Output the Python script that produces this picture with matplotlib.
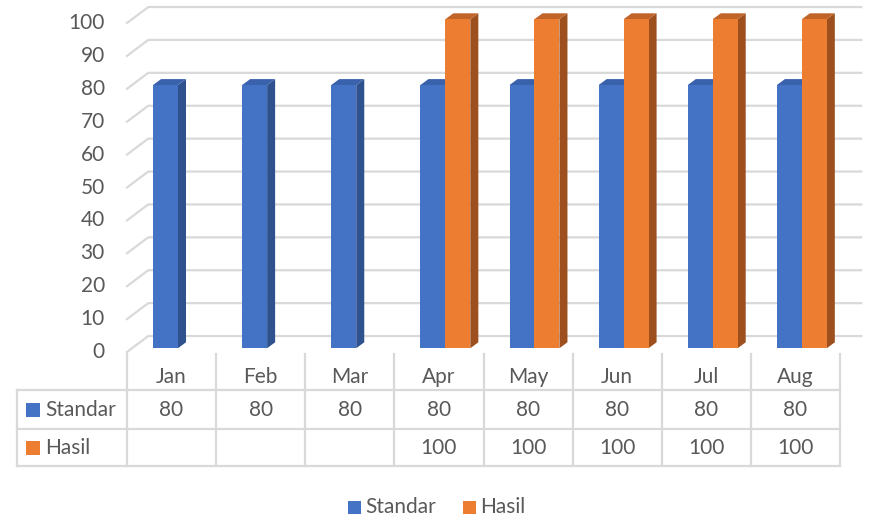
import matplotlib.pyplot as plt
from matplotlib.patches import Polygon, Rectangle
from matplotlib.transforms import blended_transform_factory

plt.rcParams['font.family'] = ['Lato', 'DejaVu Sans']

months = ['Jan', 'Feb', 'Mar', 'Apr', 'May', 'Jun', 'Jul', 'Aug']
standar = [80, 80, 80, 80, 80, 80, 80, 80]
hasil = [None, None, None, 100, 100, 100, 100, 100]
series_names = ['Standar', 'Hasil']
y_ticks = list(range(0, 101, 10))

# colours: front, side, top
blue = ('#4472C4', '#2F528F', '#3A62AC')
orange = ('#ED7D31', '#9E4F1E', '#C0642A')
grid_c = '#d9d9d9'
text_c = '#595959'
fs = 15

W, H = 869, 521
fig = plt.figure(figsize=(W / 100, H / 100), dpi=100)

# front plane of the 3d box, in pixels
px_left, px_right, px_top, px_bottom = 127, 840, 23, 352
ax = fig.add_axes([px_left / W, 1 - px_bottom / H,
                   (px_right - px_left) / W, (px_bottom - px_top) / H])
ax.set_xlim(-0.5, len(months) - 0.5)
ax.set_ylim(0, 100)
ax.axis('off')

# depth offsets in data units
back_dx, back_dy = 0.238, 4.85
bar_dx, bar_dy = 0.072, 1.15
bar_w = 0.28
side_dx, side_dy = 0.09, 1.8

# walls: gridlines on back wall + diagonal on side wall
x_lo, x_hi = -0.5, len(months) - 0.5
for v in y_ticks:
    ax.plot([x_lo, x_lo + back_dx, x_hi + back_dx], [v, v + back_dy, v + back_dy],
            color=grid_c, lw=1.6, clip_on=False, zorder=1)
    ax.annotate(str(v), (x_lo, v), xytext=(-16, 0), textcoords='offset points',
                ha='right', va='center', fontsize=fs, color=text_c)


def bar3d(x0, h, cols):
    xf = x0 + bar_dx
    y0 = bar_dy
    front = Rectangle((xf, y0), bar_w, h, facecolor=cols[0], edgecolor='none', zorder=3)
    side = Polygon([(xf + bar_w, y0), (xf + bar_w + side_dx, y0 + side_dy),
                    (xf + bar_w + side_dx, y0 + h + side_dy), (xf + bar_w, y0 + h)],
                   closed=True, facecolor=cols[1], edgecolor='none', zorder=2)
    top = Polygon([(xf, y0 + h), (xf + side_dx, y0 + h + side_dy),
                   (xf + bar_w + side_dx, y0 + h + side_dy), (xf + bar_w, y0 + h)],
                  closed=True, facecolor=cols[2], edgecolor='none', zorder=2)
    for p in (side, top, front):
        p.set_clip_on(False)
        ax.add_patch(p)


for i in range(len(months)):
    if standar[i] is not None:
        bar3d(i - bar_w, standar[i], blue)
    if hasil[i] is not None:
        bar3d(i, hasil[i], orange)

# ---- data table below the plot ----
tb = blended_transform_factory(ax.transData, fig.transFigure)
tf = fig.transFigure


def fy(p):
    return 1 - p / H


def fx(p):
    return p / W


row_top, row_mid, row_bot = 390, 429, 466
tbl_left = 17
for yy in (row_top, row_mid, row_bot):
    fig.add_artist(plt.Line2D([fx(tbl_left), fx(px_right)], [fy(yy), fy(yy)],
                              color=grid_c, lw=1.6, transform=tf))
fig.add_artist(plt.Line2D([fx(tbl_left), fx(tbl_left)], [fy(row_top), fy(row_bot)],
                          color=grid_c, lw=1.6, transform=tf))
for k in range(len(months) + 1):
    ax.plot([k - 0.5, k - 0.5], [fy(354), fy(row_bot)], color=grid_c, lw=1.6,
            transform=tb, clip_on=False)

for i, m in enumerate(months):
    ax.text(i, fy(377), m, transform=tb, ha='center', va='center',
            fontsize=fs, color=text_c)
    for vals, yy in ((standar, 410), (hasil, 448)):
        if vals[i] is not None:
            ax.text(i, fy(yy), str(vals[i]), transform=tb, ha='center', va='center',
                    fontsize=fs, color=text_c)

for name, cols, yy in ((series_names[0], blue, 410), (series_names[1], orange, 448)):
    fig.add_artist(Rectangle((fx(26), fy(yy + 7)), fx(14), 14 / H,
                             facecolor=cols[0], edgecolor='none', transform=tf))
    fig.text(fx(45), fy(yy), name, ha='left', va='center', fontsize=fs, color=text_c)

# ---- legend at the bottom ----
leg_y = 507
for name, cols, x_sq in ((series_names[0], blue, 348), (series_names[1], orange, 463)):
    fig.add_artist(Rectangle((fx(x_sq), fy(leg_y + 6.5)), fx(13), 13 / H,
                             facecolor=cols[0], edgecolor='none', transform=tf))
    fig.text(fx(x_sq + 17), fy(leg_y), name, ha='left', va='center',
             fontsize=fs, color=text_c)

fig.savefig('out.png', dpi=100)
